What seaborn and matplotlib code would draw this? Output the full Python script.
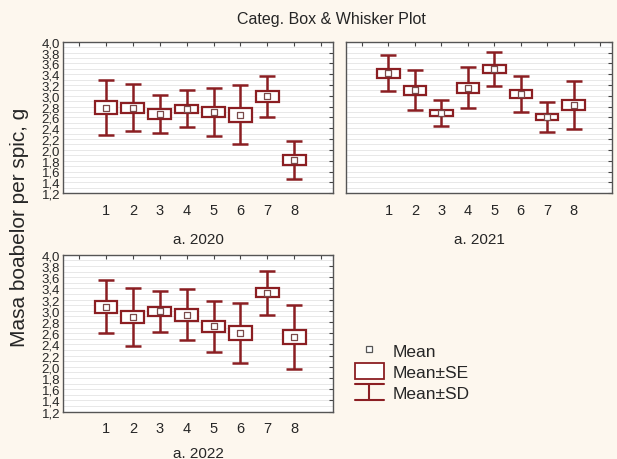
import numpy as np
import pandas as pd
import matplotlib
matplotlib.use('Agg')
import matplotlib.pyplot as plt
import seaborn as sns
from matplotlib.lines import Line2D
from matplotlib.patches import Patch
from matplotlib.legend_handler import HandlerBase
from matplotlib.ticker import MultipleLocator, FuncFormatter

sns.set_style('white')
plt.rcParams['font.family'] = ['Liberation Sans', 'DejaVu Sans']

# data
groups = [1, 2, 3, 4, 5, 6, 7, 8]
years = ['a. 2020', 'a. 2021', 'a. 2022']

mean_2020 = [2.78, 2.78, 2.66, 2.76, 2.70, 2.65, 2.99, 1.81]
se_2020 = [0.125, 0.095, 0.095, 0.075, 0.095, 0.125, 0.095, 0.09]
sd_2020 = [0.51, 0.435, 0.355, 0.34, 0.45, 0.545, 0.375, 0.355]

mean_2021 = [3.42, 3.10, 2.68, 3.15, 3.50, 3.03, 2.61, 2.83]
se_2021 = [0.085, 0.09, 0.055, 0.095, 0.075, 0.075, 0.05, 0.10]
sd_2021 = [0.335, 0.37, 0.235, 0.375, 0.32, 0.335, 0.275, 0.445]

mean_2022 = [3.07, 2.89, 2.99, 2.93, 2.72, 2.60, 3.32, 2.53]
se_2022 = [0.11, 0.115, 0.08, 0.11, 0.095, 0.125, 0.08, 0.13]
sd_2022 = [0.475, 0.52, 0.36, 0.455, 0.455, 0.535, 0.395, 0.565]

frames = []
for yr, m, se, sd in zip(years, [mean_2020, mean_2021, mean_2022],
                         [se_2020, se_2021, se_2022], [sd_2020, sd_2021, sd_2022]):
    frames.append(pd.DataFrame({'year': yr, 'group': groups, 'mean': m, 'se': se, 'sd': sd}))
df = pd.concat(frames, ignore_index=True)

RED = '#8b1e22'
BG = '#fdf7ee'

fig = plt.figure(figsize=(6.17, 4.6), dpi=100, facecolor=BG)
positions = [[0.102, 0.578, 0.438, 0.329],
             [0.561, 0.578, 0.431, 0.329],
             [0.102, 0.103, 0.438, 0.341]]
label_pads = [11, 11, 8]


def whisker_panel(ax, d, show_ylabels=True, pad=11):
    x = d['group'].values
    m = d['mean'].values
    ax.errorbar(x, m, yerr=d['sd'].values, fmt='none', ecolor=RED, elinewidth=1.8,
                capsize=6, capthick=1.8, zorder=2)
    ax.bar(x, 2 * d['se'].values, bottom=m - d['se'].values, width=0.85,
           facecolor='white', edgecolor=RED, linewidth=1.6, zorder=3)
    sns.scatterplot(data=d, x='group', y='mean', marker='s', s=22, color='white',
                    edgecolor='#7a4a4a', linewidth=0.9, zorder=4, ax=ax, legend=False)
    ax.set_xlim(-0.6, 9.45)
    ax.set_ylim(1.2, 4.0)
    ax.set_xticks(range(0, 10))
    ax.set_xticklabels([''] + [str(g) for g in groups] + [''], fontsize=10.5)
    ax.yaxis.set_major_locator(MultipleLocator(0.2))
    ax.yaxis.set_minor_locator(MultipleLocator(0.1))
    ax.yaxis.set_major_formatter(FuncFormatter(lambda v, p: f'{v:.1f}'.replace('.', ',')))
    ax.grid(True, which='both', axis='y', color='#e4e4e4', linewidth=0.6, zorder=0)
    ax.set_axisbelow(True)
    ax.tick_params(axis='both', direction='in', length=3, width=0.8, color='#444444',
                   top=True, right=True, pad=7)
    ax.tick_params(axis='y', which='minor', length=0)
    ax.tick_params(axis='y', labelsize=9.5, pad=2)
    if not show_ylabels:
        ax.set_yticklabels([])
    for s in ax.spines.values():
        s.set_color('#555555')
        s.set_linewidth(1.0)
    ax.set_facecolor('white')
    ax.set_ylabel('')
    ax.set_xlabel(d['year'].iloc[0], fontsize=11, labelpad=pad)


for i, yr in enumerate(years):
    ax = fig.add_axes(positions[i])
    whisker_panel(ax, df[df['year'] == yr], show_ylabels=(i != 1), pad=label_pads[i])

fig.text(0.537, 0.957, 'Categ. Box & Whisker Plot', ha='center', va='center', fontsize=11.5)
fig.text(0.031, 0.506, 'Masa boabelor per spic, g', rotation=90, ha='center', va='center',
         fontsize=15)


class HandlerWhisker(HandlerBase):
    def create_artists(self, legend, orig_handle, xdescent, ydescent, width, height,
                       fontsize, trans):
        x0, x1 = -xdescent, -xdescent + width
        xm = (x0 + x1) / 2
        y0, y1 = -ydescent + 0.02 * height, -ydescent + 1.0 * height
        arts = [Line2D([x0, x1], [y1, y1]), Line2D([x0, x1], [y0, y0]),
                Line2D([xm, xm], [y0, y1])]
        for a in arts:
            a.set_color(RED)
            a.set_linewidth(1.5)
            a.set_transform(trans)
        return arts


h_mean = Line2D([], [], marker='s', ls='none', markersize=5, markerfacecolor='white',
                markeredgecolor='#555555', markeredgewidth=0.9)
h_se = Patch(facecolor='white', edgecolor=RED, linewidth=1.3)
h_sd = Line2D([], [], color=RED)
fig.legend([h_mean, h_se, h_sd], ['Mean', 'Mean±SE', 'Mean±SD'],
           handler_map={h_sd: HandlerWhisker()}, loc='upper left',
           bbox_to_anchor=(0.575, 0.255), frameon=False, fontsize=12.5,
           handlelength=1.67, handleheight=1.05, handletextpad=0.5, labelspacing=0.25,
           borderaxespad=0, borderpad=0)

fig.savefig('out.png', dpi=100, facecolor=BG)
